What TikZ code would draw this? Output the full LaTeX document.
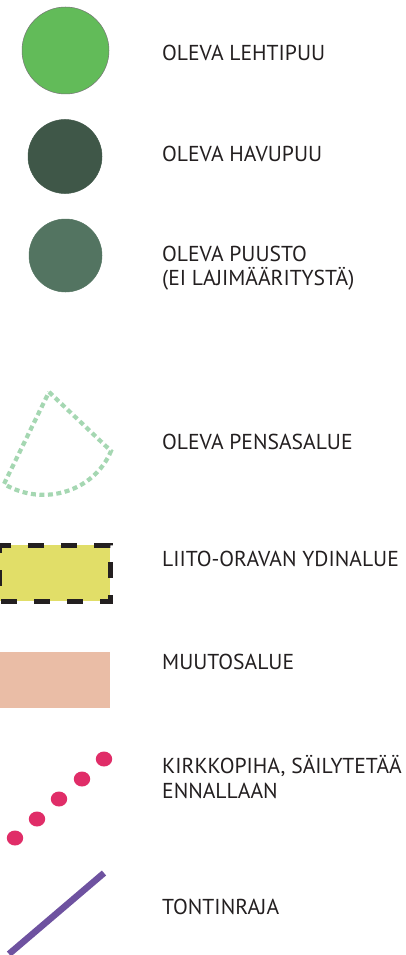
\documentclass[tikz,border=0pt]{standalone}
\usepackage{fontspec}
\setmainfont{PT Sans}
\definecolor{txt}{RGB}{35,31,32}
\definecolor{lehti}{RGB}{98,187,89}
\definecolor{havu}{RGB}{63,87,72}
\definecolor{puusto}{RGB}{83,116,97}
\definecolor{pensas}{RGB}{165,215,178}
\definecolor{liito}{RGB}{225,222,104}
\definecolor{muutos}{RGB}{234,189,166}
\definecolor{kirkko}{RGB}{224,45,104}
\definecolor{tontti}{RGB}{110,82,160}
\tikzset{
  label/.style={anchor=base west, inner sep=0pt, font=\fontsize{21.6}{25}\selectfont, text=txt, align=left},
  tree/.style={circle, inner sep=0pt, draw=black!55, line width=0.5pt},
}
\begin{document}
\begin{tikzpicture}[x=1pt, y=-1pt]
\useasboundingbox (0,0) rectangle (405,955);

% existing trees
\node[tree, fill=lehti, minimum size=87pt] (lehtipuu) at (65.5,50.5) {};
\node[tree, fill=havu, minimum size=74pt, draw=havu] (havupuu) at (65,156.5) {};
\node[tree, fill=puusto, minimum size=73pt, draw=puusto] (puusto) at (65.5,255.5) {};

% existing shrub area
\draw[pensas, line width=4.2pt, dash pattern=on 5pt off 3.5pt]
  (49,392) -- (111,451) .. controls (95,490) and (45,508) .. (4,484) -- cycle;

% flying squirrel core area
\draw[txt, fill=liito, line width=5pt, dash pattern=on 16pt off 17pt, dash phase=8pt]
  (-1,545) rectangle (110,601);

% change area
\fill[muutos] (0,652) rectangle (110,708);

% churchyard dots
\foreach \px/\py [count=\i] in {104/759, 82/779, 59/799, 37/819, 15/838}
  \fill[kirkko] (\px,\py) ellipse (8.2pt and 7.5pt);

% plot boundary
\coordinate (rajaA) at (104,873);
\coordinate (rajaB) at (9,954);
\draw[tontti, line width=6.5pt] (rajaA) -- (rajaB);

% legend texts
\node[label] (t1) at (162,60.7) {OLEVA LEHTIPUU};
\node[label] (t2) at (162,161) {OLEVA HAVUPUU};
\node[label] (t3) at (162,261) {OLEVA PUUSTO};
\node[label] (t3b) at (162,285.5) {(EI LAJIMÄÄRITYSTÄ)};
\node[label] (t4) at (162,449) {OLEVA PENSASALUE};
\node[label] (t5) at (162,566) {LIITO-ORAVAN YDINALUE};
\node[label] (t6) at (162,669) {MUUTOSALUE};
\node[label] (t7) at (162,773) {KIRKKOPIHA, SÄILYTETÄÄ};
\node[label] (t7b) at (162,798) {ENNALLAAN};
\node[label] (t8) at (162,914) {TONTINRAJA};
\end{tikzpicture}
\end{document}
